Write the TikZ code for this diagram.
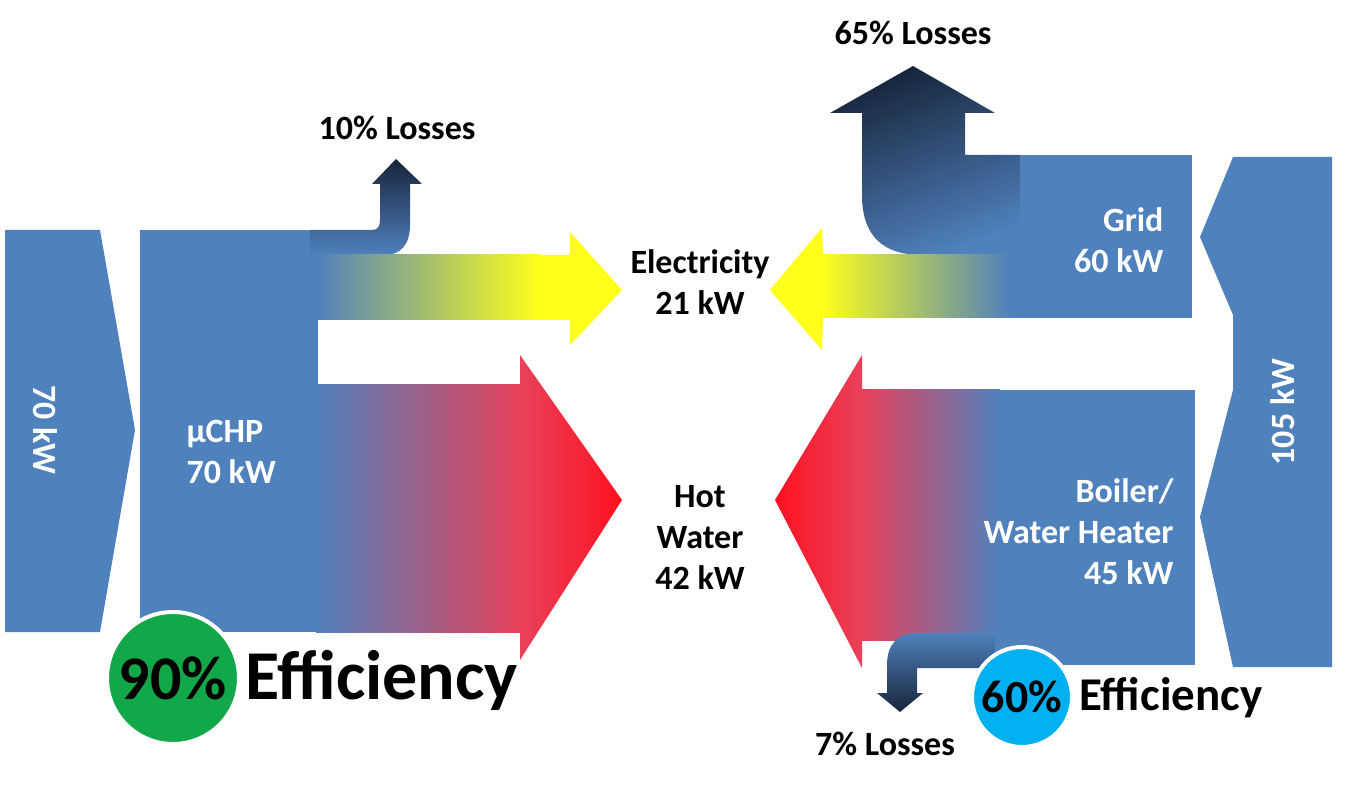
\documentclass[tikz,border=0pt]{standalone}
\usepackage{fontspec}
\setmainfont{Carlito}
\definecolor{cblue}{HTML}{4F81BD}
\definecolor{navy}{HTML}{17243A}
\definecolor{yel}{HTML}{FFFF1A}
\definecolor{hred}{HTML}{FF1020}
\definecolor{mred}{HTML}{E8425A}
\definecolor{cgreen}{HTML}{12A84A}
\definecolor{ccyan}{HTML}{00B0F0}
\tikzset{
  lbl/.style={font=\bfseries\fontsize{34}{41}\selectfont, align=center, text=black},
  wlbl/.style={font=\bfseries\fontsize{34}{41}\selectfont, text=white},
  circ/.style={circle, draw=white, line width=4pt, minimum size=#1},
}
\begin{document}
\begin{tikzpicture}[x=1pt,y=-1pt]
\path[use as bounding box] (0,0) rectangle (1350,786);
% left input
\fill[cblue] (5,230) -- (100,230) -- (135,430) -- (100,632) -- (5,632) -- cycle;
\node[wlbl, rotate=-90] (in70) at (45,430) {70 kW};
% uCHP block
\fill[cblue] (140,230) rectangle (318,632);
\node[wlbl, align=left, anchor=west] (chp) at (183,452) {µCHP\\70 kW};
% 10% losses arrow
\shade[top color=navy, bottom color=cblue] (310,230) -- (372,230) .. controls (378,230) and (380,226) .. (380,220) -- (380,184) -- (372,184) -- (396,159) -- (422,184) -- (410,184) -- (410,225) .. controls (410,245) and (400,255) .. (385,255) -- (310,255) -- cycle;
% electricity left
\shade[left color=cblue, right color=yel] (316,255) rectangle (540,320);
\fill[yel] (539,255) -- (570,255) -- (570,232) -- (622,290) -- (570,345) -- (570,320) -- (539,320) -- cycle;
% hot water left
\shade[left color=cblue, right color=mred] (316,385) rectangle (521,632);
\shade[left color=mred, right color=hred] (520,385) -- (520,355) -- (622,500) -- (520,660) -- (520,632) -- cycle;
% 105 kW block
\fill[cblue] (1233,157) -- (1332,157) -- (1332,667) -- (1233,667) -- (1200,517) -- (1233,390) -- (1233,315) -- (1200,237) -- cycle;
\node[wlbl, rotate=90] (in105) at (1283,412) {105 kW};
% Grid block
\fill[cblue] (1000,155) rectangle (1192,318);
\shade[top color=navy, bottom color=cblue, shading angle=20] (1020,155) -- (965,155) -- (965,113) -- (995,113) -- (913,66) -- (830,113) -- (862,113) -- (862,195) .. controls (862,235) and (882,255) .. (922,255) -- (1020,255) -- cycle;
\node[wlbl, align=right, anchor=east] (grid) at (1167,240) {Grid\\60 kW};
% electricity right
\shade[left color=yel, right color=cblue] (821,255) rectangle (1010,318);
\fill[yel] (823,255) -- (822,228) -- (770,290) -- (822,350) -- (823,318) -- cycle;
% boiler block
\fill[cblue] (990,390) rectangle (1195,665);
\shade[left color=mred, right color=cblue] (861,390) rectangle (1000,640);
\shade[left color=hred, right color=mred] (862,390) -- (862,355) -- (775,500) -- (862,668) -- (862,640) -- cycle;
\shade[top color=cblue, bottom color=navy] (1000,633) -- (917,633) .. controls (897,633) and (887,645) .. (887,665) -- (887,693) -- (877,693) -- (900,712) -- (923,693) -- (917,693) -- (917,668) -- (1000,668) -- cycle;
\fill[cblue] (995,633) rectangle (1195,665);
\node[wlbl, align=right, anchor=east] (boiler) at (1177,532) {Boiler/\\Water Heater\\45 kW};
% center labels
\node[lbl] (elec) at (700,282) {Electricity\\21 kW};
\node[lbl] (hot) at (700,537) {Hot\\Water\\42 kW};
\node[lbl] (l10) at (397,128) {10\% Losses};
\node[lbl] (l65) at (913,33) {65\% Losses};
\node[lbl] (l7) at (885,744) {7\% Losses};
% efficiency
\node[circ=132pt, fill=cgreen, font=\bfseries\fontsize{62}{62}\selectfont, inner sep=0pt] (g90) at (173,678) {90\%};
\node[font=\bfseries\fontsize{70}{70}\selectfont, anchor=west, inner sep=0pt] (eff1) at (245,680) {Efficiency};
\node[circ=100pt, fill=ccyan, font=\bfseries\fontsize{46}{46}\selectfont, inner sep=0pt] (b60) at (1022,697) {60\%};
\node[font=\bfseries\fontsize{47}{47}\selectfont, anchor=west, inner sep=0pt] (eff2) at (1079,698) {Efficiency};
\end{tikzpicture}
\end{document}
